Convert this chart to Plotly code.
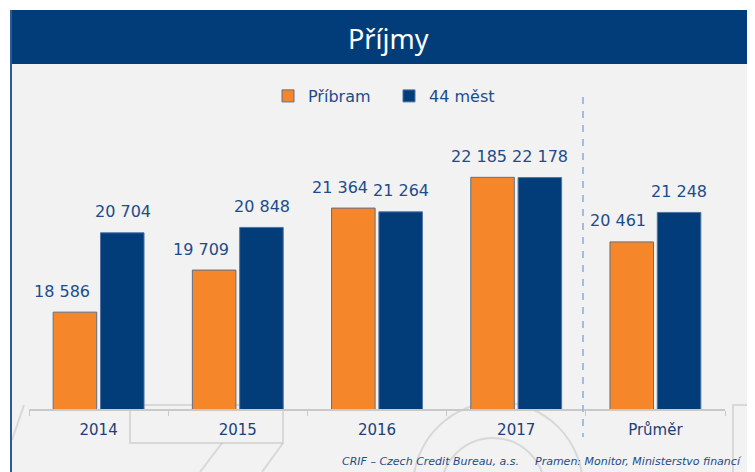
import plotly.graph_objects as go

categories = ["2014", "2015", "2016", "2017", "Průměr"]
pribram = [18586, 19709, 21364, 22185, 20461]
mest44 = [20704, 20848, 21264, 22178, 21248]
series_names = ["Příbram", "44 měst"]
title_text = "Příjmy"
footer_left = "CRIF – Czech Credit Bureau, a.s."
footer_right = "Pramen: Monitor, Ministerstvo financí"

ORANGE = "#f5862a"
BLUE = "#023c79"
TXT = "#1c4c8b"
TICK = "#1d3f78"

OFF = 8  # page body margin of the html page
W, H = 755 - OFF, 472 - OFF
L, R, T, B = 29 - OFF, 30, 97 - OFF, 63
PW, PH = W - L - R, H - T - B


def X(px):
    # reference page pixel -> paper coordinate
    return (px - OFF - L) / PW


def Y(py):
    return (H - B - (py - OFF)) / PH


def fmt(v):
    return f"{v:,}".replace(",", " ")


fig = go.Figure()
fig.add_trace(go.Bar(x=categories, y=pribram, name=series_names[0],
                     marker=dict(color=ORANGE, line=dict(color="#5f6f86", width=1))))
fig.add_trace(go.Bar(x=categories, y=mest44, name=series_names[1],
                     marker=dict(color=BLUE, line=dict(color="#4f73a3", width=1))))

annotations = []
for i, v in enumerate(pribram):
    annotations.append(dict(x=i, y=v, xref="x", yref="y", text=fmt(v), showarrow=False,
                            xshift=-37, yshift=21, yanchor="middle",
                            font=dict(family="DejaVu Sans", size=16, color=TXT)))
for i, v in enumerate(mest44):
    annotations.append(dict(x=i, y=v, xref="x", yref="y", text=fmt(v), showarrow=False,
                            xshift=24, yshift=21, yanchor="middle",
                            font=dict(family="DejaVu Sans", size=16, color=TXT)))

annotations.append(dict(x=X(388), y=Y(38), xref="paper", yref="paper", text=title_text,
                        showarrow=False, xanchor="center", yanchor="middle",
                        font=dict(family="Noto Sans", size=27, color="white")))
annotations.append(dict(x=X(340), y=Y(461), xref="paper", yref="paper", text=footer_left,
                        showarrow=False, xanchor="left", yanchor="middle",
                        font=dict(family="DejaVu Sans", size=11, color=TXT, style="italic")))
annotations.append(dict(x=X(533), y=Y(461), xref="paper", yref="paper", text=footer_right,
                        showarrow=False, xanchor="left", yanchor="middle",
                        font=dict(family="DejaVu Sans", size=11, color=TXT, style="italic")))

wm = "rgba(185,185,185,0.45)"
shapes = [
    # body background
    dict(type="rect", xref="paper", yref="paper", x0=X(10), x1=X(770), y0=Y(64), y1=Y(490),
         fillcolor="#f2f2f2", line=dict(width=0), layer="below"),
    # watermark
    dict(type="circle", xref="paper", yref="paper", x0=X(413), x1=X(583), y0=Y(572), y1=Y(402),
         line=dict(color=wm, width=2), layer="below"),
    dict(type="circle", xref="paper", yref="paper", x0=X(441), x1=X(545), y0=Y(542), y1=Y(438),
         line=dict(color=wm, width=2), layer="below"),
    dict(type="rect", xref="paper", yref="paper", x0=X(130), x1=X(283), y0=Y(443), y1=Y(405),
         line=dict(color=wm, width=2), layer="below"),
    dict(type="line", xref="paper", yref="paper", x0=X(283), x1=X(262), y0=Y(443), y1=Y(472),
         line=dict(color=wm, width=2), layer="below"),
    dict(type="line", xref="paper", yref="paper", x0=X(222), x1=X(200), y0=Y(443), y1=Y(472),
         line=dict(color=wm, width=2), layer="below"),
    dict(type="line", xref="paper", yref="paper", x0=X(24), x1=X(12), y0=Y(405), y1=Y(440),
         line=dict(color=wm, width=2), layer="below"),
    dict(type="rect", xref="paper", yref="paper", x0=X(733), x1=X(770), y0=Y(490), y1=Y(405),
         line=dict(color=wm, width=2), layer="below"),
    # header band
    dict(type="rect", xref="paper", yref="paper", x0=X(10), x1=X(770), y0=Y(64), y1=Y(10),
         fillcolor="#023d7a", line=dict(width=0), layer="below"),
    # left border
    dict(type="line", xref="paper", yref="paper", x0=X(11), x1=X(11), y0=Y(10), y1=Y(490),
         line=dict(color="#2a5a9a", width=2), layer="below"),
    # dashed separator
    dict(type="line", xref="paper", yref="paper", x0=X(583), x1=X(583), y0=Y(97), y1=Y(437),
         line=dict(color="#a6bcdb", width=2, dash="7px,7px"), layer="above"),
]

fig.update_layout(
    width=W, height=H,
    margin=dict(l=L, r=R, t=T, b=B, autoexpand=False),
    paper_bgcolor="white",
    plot_bgcolor="rgba(0,0,0,0)",
    barmode="group", bargap=0.32, bargroupgap=0.08,
    showlegend=True,
    legend=dict(orientation="h", x=X(268), y=Y(96), xanchor="left", yanchor="middle",
                bgcolor="rgba(0,0,0,0)",
                font=dict(family="DejaVu Sans", size=16, color=TXT),
                itemwidth=30, traceorder="normal", entrywidth=76),
    xaxis=dict(type="category", categoryorder="array", categoryarray=categories,
               range=[-0.5, len(categories) - 0.5], autorange=False,
               showline=True, linecolor="#c9c9c9", linewidth=2,
               ticks="outside", ticklen=5, tickwidth=1, tickcolor="#c9c9c9",
               tickson="boundaries", showgrid=False, zeroline=False,
               tickfont=dict(family="DejaVu Sans", size=15, color=TICK),
               ticklabelstandoff=6),
    yaxis=dict(range=[16000, 24330], autorange=False, visible=False,
               showgrid=False, zeroline=False),
    annotations=annotations,
    shapes=shapes,
)

fig.write_html("out.html")
